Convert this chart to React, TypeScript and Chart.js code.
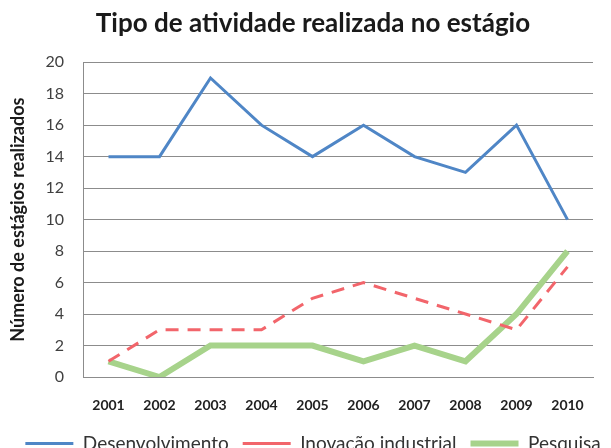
import React, { useEffect, useRef } from "react";
import { Chart, registerables } from "chart.js";

Chart.register(...registerables);

const years = ["2001", "2002", "2003", "2004", "2005", "2006", "2007", "2008", "2009", "2010"];
const desenvolvimento = [14, 14, 19, 16, 14, 16, 14, 13, 16, 10];
const inovacao = [1, 3, 3, 3, 5, 6, 5, 4, 3, 7];
const pesquisa = [1, 0, 2, 2, 2, 1, 2, 1, 4, 8];

const FONT = "Lato, 'Open Sans', sans-serif";

export default function App() {
  const ref = useRef<HTMLCanvasElement | null>(null);

  useEffect(() => {
    if (!ref.current) return;
    const chart = new Chart(ref.current, {
      type: "line",
      data: {
        labels: years,
        datasets: [
          {
            label: "Desenvolvimento",
            data: desenvolvimento,
            borderColor: "#4f86c6",
            backgroundColor: "#4f86c6",
            borderWidth: 3,
            pointRadius: 0,
            tension: 0,
            borderCapStyle: "butt",
          },
          {
            label: "Inovação industrial",
            data: inovacao,
            borderColor: "#f2656b",
            backgroundColor: "#f2656b",
            borderWidth: 3,
            borderDash: [13, 9],
            pointRadius: 0,
            tension: 0,
          },
          {
            label: "Pesquisa",
            data: pesquisa,
            borderColor: "#a7d38b",
            backgroundColor: "#a7d38b",
            borderWidth: 6,
            pointRadius: 0,
            tension: 0,
          },
        ],
      },
      options: {
        responsive: false,
        animation: false,
        devicePixelRatio: 1,
        layout: { padding: 0 },
        plugins: {
          title: {
            display: true,
            text: "Tipo de atividade realizada no estágio",
            color: "#1a1a1a",
            font: { family: FONT, size: 26, weight: "bold" },
            padding: { top: 8, bottom: 23 },
          },
          legend: {
            display: true,
            position: "bottom",
            labels: {
              usePointStyle: true,
              pointStyle: "line",
              pointStyleWidth: 48,
              color: "#333",
              font: { family: FONT, size: 19 },
              padding: 14,
            },
          },
          tooltip: { enabled: false },
        },
        scales: {
          x: {
            offset: true,
            grid: { display: false, drawTicks: false },
            border: { display: true, color: "#8c8c8c" },
            ticks: {
              color: "#222",
              font: { family: FONT, size: 14, weight: "bold" },
              padding: 20,
              maxRotation: 0,
            },
            afterFit: (s: any) => {
              s.height = 43;
            },
          },
          y: {
            min: 0,
            max: 20,
            ticks: {
              stepSize: 2,
              color: "#404040",
              font: { family: FONT, size: 16 },
              padding: 19,
            },
            grid: { color: "#8c8c8c", drawTicks: false },
            border: { display: true, color: "#8c8c8c" },
            title: {
              display: true,
              text: "Número de estágios realizados",
              color: "#1a1a1a",
              font: { family: FONT, size: 18, weight: "bold" },
              padding: { top: 7, bottom: 0 },
            },
            afterFit: (s: any) => {
              s.width = 83;
            },
          },
          yR: {
            type: "linear",
            position: "right",
            display: true,
            grid: { display: false, drawTicks: false },
            border: { display: false },
            ticks: { display: false },
            afterFit: (s: any) => {
              s.width = 33;
            },
          },
        },
      },
    });
    return () => chart.destroy();
  }, []);

  return (
    <div
      style={{
        position: "fixed",
        left: 0,
        top: 0,
        width: 611,
        height: 448,
        overflow: "hidden",
        background: "#fff",
      }}
    >
      <canvas ref={ref} width={626} height={463} style={{ display: "block" }} />
    </div>
  );
}
